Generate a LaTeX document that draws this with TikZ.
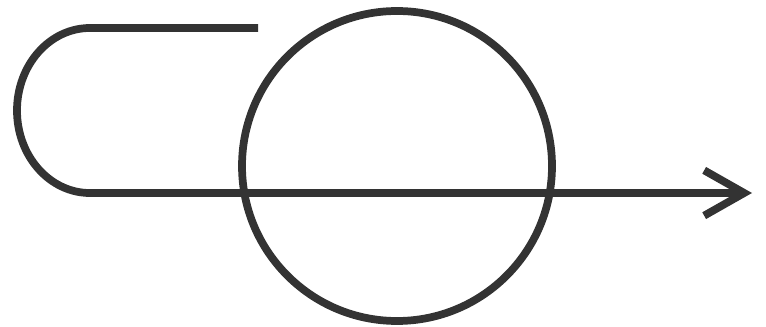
\documentclass[tikz,border=0pt]{standalone}
\usepackage{tikz}
\usetikzlibrary{arrows.meta}
\definecolor{inkgray}{HTML}{333333}

\begin{document}
\begin{tikzpicture}[
  x=0.75pt, y=-0.75pt,
  stroke/.style={draw=inkgray, line width=5.8pt},
  arr/.style={stroke, line cap=butt, -{Straight Barb[length=30pt, width=34pt, line width=5.8pt]}},
  ring/.style={stroke, circle, minimum size=310*0.75pt, inner sep=0pt}
]
\useasboundingbox (0,0) rectangle (766,327);
\node[ring] (wheel) at (397,166) {};
\coordinate (start) at (258,28);
\coordinate (turn) at (90,28);
\coordinate (tip) at (752,193);

\draw[arr] (start) -- (turn) arc[start angle=270, end angle=90, x radius=73, y radius=82.5] -- (tip);
\end{tikzpicture}
\end{document}
